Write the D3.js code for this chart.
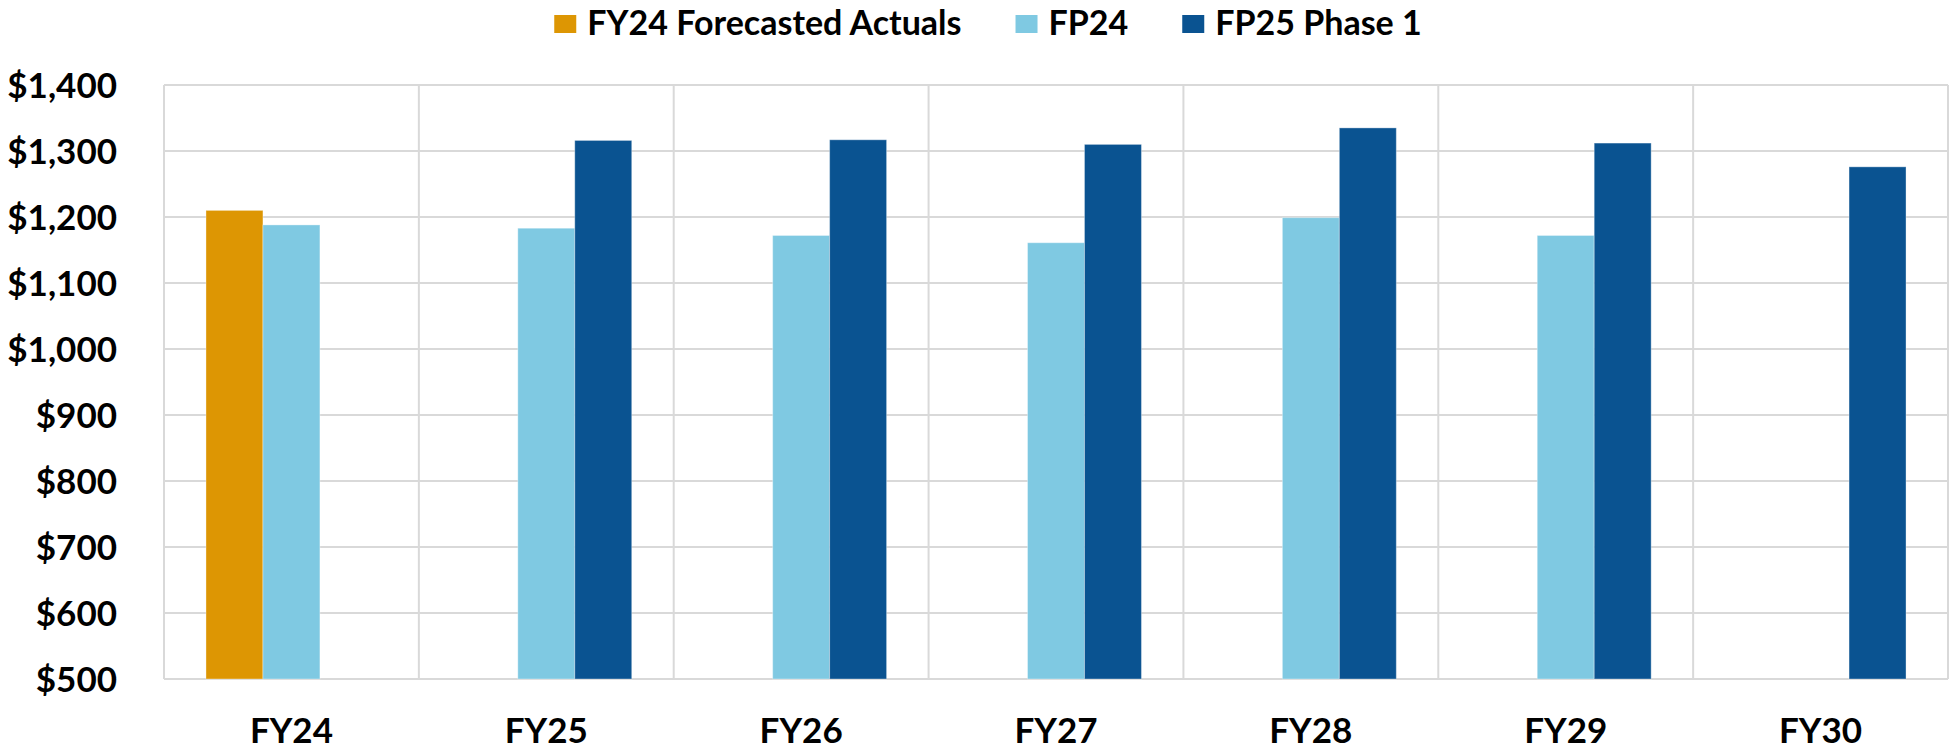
<!DOCTYPE html>
<html>
<head>
<meta charset="utf-8">
<script src="https://cdn.jsdelivr.net/npm/d3@7"></script>
<style>
  html, body { margin: 0; padding: 0; background: #ffffff; }
  svg { display: block; }
  text { font-family: Lato, "Noto Sans", sans-serif; font-weight: 700; fill: #000; }
</style>
</head>
<body>
<svg id="chart" width="1950" height="752"></svg>
<script>
// Fiscal years along the x axis
const categories = ["FY24", "FY25", "FY26", "FY27", "FY28", "FY29", "FY30"];

// Series (null = no bar for that year)
const seriesNames = ["FY24 Forecasted Actuals", "FP24", "FP25 Phase 1"];
const fy24Actuals = [1210, null, null, null, null, null, null];
const fp24 = [1188, 1183, 1172, 1161, 1199, 1172, null];
const fp25Phase1 = [null, 1316, 1317, 1310, 1335, 1312, 1276];

// Y axis ticks
const yTicks = [500, 600, 700, 800, 900, 1000, 1100, 1200, 1300, 1400];

const colors = ["#DD9603", "#7FC9E2", "#0A5391"];
const seriesValues = [fy24Actuals, fp24, fp25Phase1];

const W = 1950, H = 752;
const margin = { top: 85, right: 2, bottom: 73, left: 164 };
const fontSize = 35;
const legendFontSize = 34;
const svg = d3.select("#chart");

const x = d3.scaleBand()
  .domain(categories)
  .range([margin.left, W - margin.right])
  .paddingInner(0)
  .paddingOuter(0);

const xSeries = d3.scaleBand()
  .domain(seriesNames)
  .range([0, x.bandwidth()])
  .paddingInner(0)
  .paddingOuter(0.737);

const y = d3.scaleLinear()
  .domain([500, 1400])
  .range([H - margin.bottom, margin.top]);

const grid = svg.append("g").attr("class", "grid");
const gridColor = "#d9d9d9";

// Horizontal gridlines
grid.selectAll("line.h")
  .data(yTicks)
  .join("line")
  .attr("class", "h")
  .attr("x1", margin.left)
  .attr("x2", W - margin.right)
  .attr("y1", d => y(d))
  .attr("y2", d => y(d))
  .attr("stroke", gridColor)
  .attr("stroke-width", 2);

// Vertical category separators
const xEdges = categories.map(c => x(c)).concat([x(categories[categories.length - 1]) + x.bandwidth()]);
grid.selectAll("line.v")
  .data(xEdges)
  .join("line")
  .attr("class", "v")
  .attr("x1", d => d)
  .attr("x2", d => d)
  .attr("y1", y(1400))
  .attr("y2", y(500))
  .attr("stroke", gridColor)
  .attr("stroke-width", 2);

// Bars
const barData = [];
seriesNames.forEach((s, si) => {
  seriesValues[si].forEach((v, ci) => {
    if (v != null) barData.push({ series: s, si, cat: categories[ci], value: v });
  });
});

svg.append("g")
  .selectAll("rect")
  .data(barData)
  .join("rect")
  .attr("x", d => x(d.cat) + xSeries(d.series))
  .attr("width", xSeries.bandwidth())
  .attr("y", d => y(d.value))
  .attr("height", d => y(500) - y(d.value))
  .attr("fill", d => colors[d.si])
  .attr("stroke", "rgba(255,255,255,0.35)")
  .attr("stroke-width", 1);

// Y axis labels
const fmt = d3.format(",");
const yAxis = d3.axisLeft(y)
  .tickValues(yTicks)
  .tickSize(0)
  .tickPadding(47)
  .tickFormat(d => "$" + fmt(d));

svg.append("g")
  .attr("transform", `translate(${margin.left},0)`)
  .call(yAxis)
  .call(g => g.select(".domain").remove())
  .selectAll("text")
  .attr("font-family", "Lato, 'Noto Sans', sans-serif")
  .attr("font-weight", 700)
  .attr("font-size", fontSize)
  .attr("fill", "#000")
  .attr("dy", "0.36em");

// X axis labels
const xAxis = d3.axisBottom(x).tickSize(0).tickPadding(0);
svg.append("g")
  .attr("transform", `translate(0,${H - margin.bottom})`)
  .call(xAxis)
  .call(g => g.select(".domain").remove())
  .selectAll("text")
  .attr("font-family", "Lato, 'Noto Sans', sans-serif")
  .attr("font-weight", 700)
  .attr("font-size", fontSize)
  .attr("fill", "#000")
  .attr("dy", 0)
  .attr("y", 64);

// Legend
const legend = svg.append("g").attr("class", "legend");
const sw = 22, sh = 18, gapText = 11, gapItem = 54;
const baseline = 35;
let cursor = 0;
seriesNames.forEach((name, i) => {
  const g = legend.append("g");
  g.append("rect")
    .attr("x", 0).attr("y", baseline - 20)
    .attr("width", sw).attr("height", sh)
    .attr("fill", colors[i]);
  const t = g.append("text")
    .attr("x", sw + gapText)
    .attr("y", baseline)
    .attr("font-size", legendFontSize)
    .text(name);
  const w = sw + gapText + t.node().getComputedTextLength();
  g.attr("transform", `translate(${cursor},0)`);
  cursor += w + gapItem;
});
const totalW = cursor - gapItem;
legend.attr("transform", `translate(${988 - totalW / 2},0)`);
</script>
</body>
</html>
